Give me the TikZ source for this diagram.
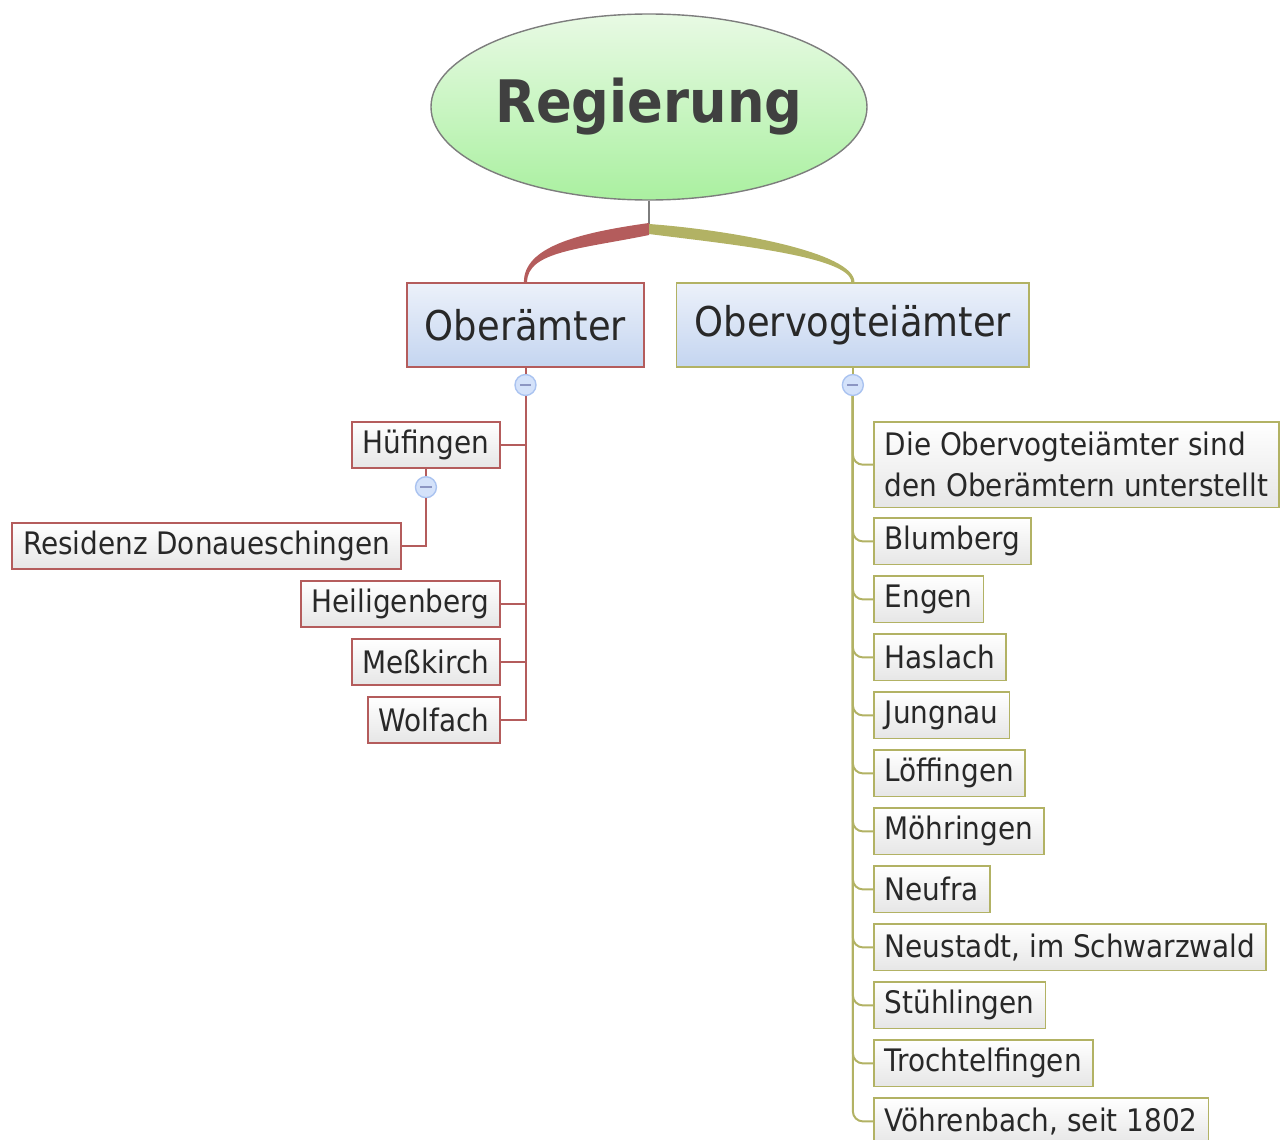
\documentclass[tikz,border=0pt]{standalone}
\usepackage{fontspec}
\setmainfont{DejaVu Sans Condensed}
\usetikzlibrary{positioning, shapes.geometric}

\definecolor{roottop}{RGB}{232,250,228}
\definecolor{rootbot}{RGB}{170,240,160}
\definecolor{rootbr}{RGB}{125,125,125}
\definecolor{roottxt}{RGB}{64,64,64}
\definecolor{maintop}{RGB}{236,241,250}
\definecolor{mainbot}{RGB}{196,213,240}
\definecolor{kidbot}{RGB}{230,230,230}
\definecolor{redbr}{RGB}{180,92,92}
\definecolor{olivebr}{RGB}{178,178,100}
\definecolor{colfill}{RGB}{212,226,250}
\definecolor{colbr}{RGB}{170,195,240}
\definecolor{colmin}{RGB}{140,150,195}
\definecolor{txt}{RGB}{40,40,40}

\begin{document}
\begin{tikzpicture}[x=0.5pt, y=-0.5pt,
		root/.style={ellipse, draw=rootbr, line width=0.7pt, top color=roottop, bottom color=rootbot, minimum width=218pt, minimum height=93pt, inner sep=0pt, text=roottxt, font=\fontsize{29.3}{32}\selectfont\bfseries},
		mainbox/.style={rectangle, line width=0.8pt, top color=maintop, bottom color=mainbot, minimum height=42pt, inner xsep=9pt, text=txt, font=\fontsize{20.5}{24}\selectfont},
		kid/.style={rectangle, line width=0.8pt, top color=white, bottom color=kidbot, minimum height=23.2pt, inner xsep=5.5pt, inner ysep=3pt, align=left, text=txt, font=\fontsize{15.5}{20.5}\selectfont},
		redkid/.style={kid, draw=redbr},
		olivekid/.style={kid, draw=olivebr},
		collapse/.style={circle, draw=colbr, fill=colfill, line width=0.7pt, minimum size=10.5pt, inner sep=0pt,
			path picture={\draw[colmin, line width=1pt] ([xshift=-2.8pt]path picture bounding box.center) -- ([xshift=2.8pt]path picture bounding box.center);}},
		redline/.style={draw=redbr, line width=1pt},
		oliveline/.style={draw=olivebr, line width=1pt}
		]
		\useasboundingbox (0,0) rectangle (1287,1140);
		
		% Root and main branches
		\node[root] (root) at (649,107) {Regierung};
		\node[mainbox, draw=redbr] (ober) at (525.5,325) {Oberämter};
		\node[mainbox, draw=olivebr, right=15.5pt of ober] (vogt) {Obervogteiämter};
		\coordinate (fork) at (649,229);
		
		\draw[rootbr, line width=0.7pt] (root.south) -- (fork);
		\fill[redbr] ([yshift=3pt]fork) .. controls +(-72,10) and +(0,-35) .. ([xshift=-0.8pt]ober.north) -- ([xshift=0.8pt]ober.north) .. controls +(0,-31) and +(-68,14) .. ([yshift=-3pt]fork) -- cycle;
		\fill[olivebr] ([yshift=2.5pt]fork) .. controls +(82,6) and +(0,-30) .. ([xshift=0.8pt]vogt.north) -- ([xshift=-0.8pt]vogt.north) .. controls +(0,-26) and +(78,10) .. ([yshift=-2.5pt]fork) -- cycle;
		
		% Collapse buttons
		\node[collapse, below=3pt of ober] (oc) {};
		\node[collapse, below=3pt of vogt] (vc) {};
		\draw[redline] (ober.south) -- (oc.north);
		\draw[oliveline] (vogt.south) -- (vc.north);
		
		% Oberaemter
		\node[redkid, anchor=north east] (huef) at (501,421) {Hüfingen};
		\node[collapse, below=3.5pt of huef] (hc) {};
		\node[redkid, anchor=north east] (resid) at (402,522) {Residenz Donaueschingen};
		\node[redkid, anchor=north east] (heilig) at (501,580) {Heiligenberg};
		\node[redkid, below=5pt of heilig.south east, anchor=north east] (mess) {Meßkirch};
		\node[redkid, below=5pt of mess.south east, anchor=north east] (wolf) {Wolfach};
		
		\draw[redline] (huef.south) -- (hc.north);
		\draw[redline] (hc.south) |- (resid.east);
		\foreach \k in {huef, heilig, mess, wolf}
			\draw[redline] (oc.south) |- (\k.east);
		
		% Obervogteiaemter
		\node[olivekid, anchor=north west, inner ysep=5.2pt] (note) at (873,421) {Die Obervogteiämter sind\\den Oberämtern unterstellt};
		\node[olivekid, below=4.5pt of note.south west, anchor=north west] (blum) {Blumberg};
		\node[olivekid, below=5pt of blum.south west, anchor=north west] (engen) {Engen};
		\node[olivekid, below=5pt of engen.south west, anchor=north west] (hasl) {Haslach};
		\node[olivekid, below=5pt of hasl.south west, anchor=north west] (jung) {Jungnau};
		\node[olivekid, below=5pt of jung.south west, anchor=north west] (loeff) {Löffingen};
		\node[olivekid, below=5pt of loeff.south west, anchor=north west] (moehr) {Möhringen};
		\node[olivekid, below=5pt of moehr.south west, anchor=north west] (neufra) {Neufra};
		\node[olivekid, below=5pt of neufra.south west, anchor=north west] (neust) {Neustadt, im Schwarzwald};
		\node[olivekid, below=5pt of neust.south west, anchor=north west] (stuehl) {Stühlingen};
		\node[olivekid, below=5pt of stuehl.south west, anchor=north west] (troch) {Trochtelfingen};
		\node[olivekid, below=5pt of troch.south west, anchor=north west] (voehr) {Vöhrenbach, seit 1802};
		
		\foreach \k in {note, blum, engen, hasl, jung, loeff, moehr, neufra, neust, stuehl, troch, voehr}
			\draw[oliveline, rounded corners=5pt] (vc.south) |- (\k.west);
		
	\end{tikzpicture}
\end{document}
